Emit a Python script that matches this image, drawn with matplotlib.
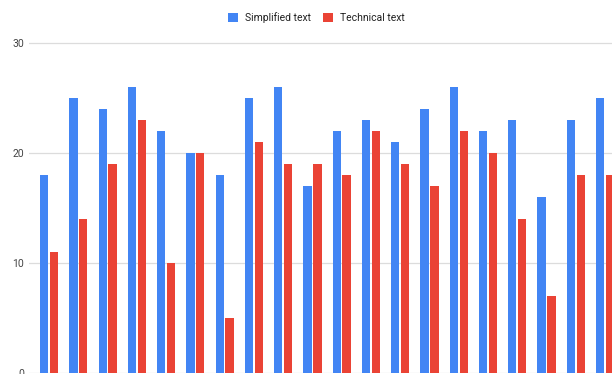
import matplotlib
matplotlib.use("Agg")
import matplotlib.pyplot as plt
from matplotlib.patches import Patch
import numpy as np

series_names = ["Simplified text", "Technical text"]
simplified = [18, 25, 24, 26, 22, 20, 18, 25, 26, 17, 22, 23, 21, 24, 26, 22, 23, 16, 23, 25]
technical = [11, 14, 19, 23, 10, 20, 5, 21, 19, 19, 18, 22, 19, 17, 22, 20, 14, 7, 18, 18]
y_ticks = [0, 10, 20, 30]

colors = ["#4285F4", "#EA4335"]
text_family = ["Roboto", "DejaVu Sans"]

W, H = 612, 374
fig = plt.figure(figsize=(W / 100, H / 100), dpi=100)
fig.patch.set_facecolor("white")

# plot area in pixel coordinates
ax_left, ax_right = 29.3, 612.0
ax_bottom_px, ax_top_px = 373.3, 10.0  # from top
ax = fig.add_axes([ax_left / W, 1 - ax_bottom_px / H,
                   (ax_right - ax_left) / W, (ax_bottom_px - ax_top_px) / H])

px_per_unit = 11.0
x = np.arange(len(simplified))
width = 0.284
offset = 0.168
ax.bar(x - offset, simplified, width, color=colors[0], zorder=3)
ax.bar(x + offset, technical, width, color=colors[1], zorder=3)

spacing = 29.26
first_center = 49.1
ax.set_xlim((ax_left - first_center) / spacing, (ax_right - first_center) / spacing)
ax.set_ylim(0, (ax_bottom_px - ax_top_px) / px_per_unit)

ax.set_yticks(y_ticks)
ax.set_yticklabels([str(v) for v in y_ticks], fontsize=7.5, color="#444444",
                   family=text_family)
ax.tick_params(axis="y", length=0, pad=3.6)
ax.set_xticks([])
ax.grid(axis="y", color="#dcdcdc", linewidth=0.9, zorder=0)
for s in ax.spines.values():
    s.set_visible(False)

handles = [Patch(facecolor=c, edgecolor="none") for c in colors]
fig.legend(handles, series_names, loc="center", bbox_to_anchor=(316.5 / W, 1 - 17.5 / H),
           ncol=2, frameon=False, handlelength=0.96, handleheight=0.96,
           handletextpad=0.7, columnspacing=1.15,
           prop={"family": text_family, "size": 7.5},
           labelcolor="#222222")

fig.savefig("out.png", dpi=100, facecolor="white")
